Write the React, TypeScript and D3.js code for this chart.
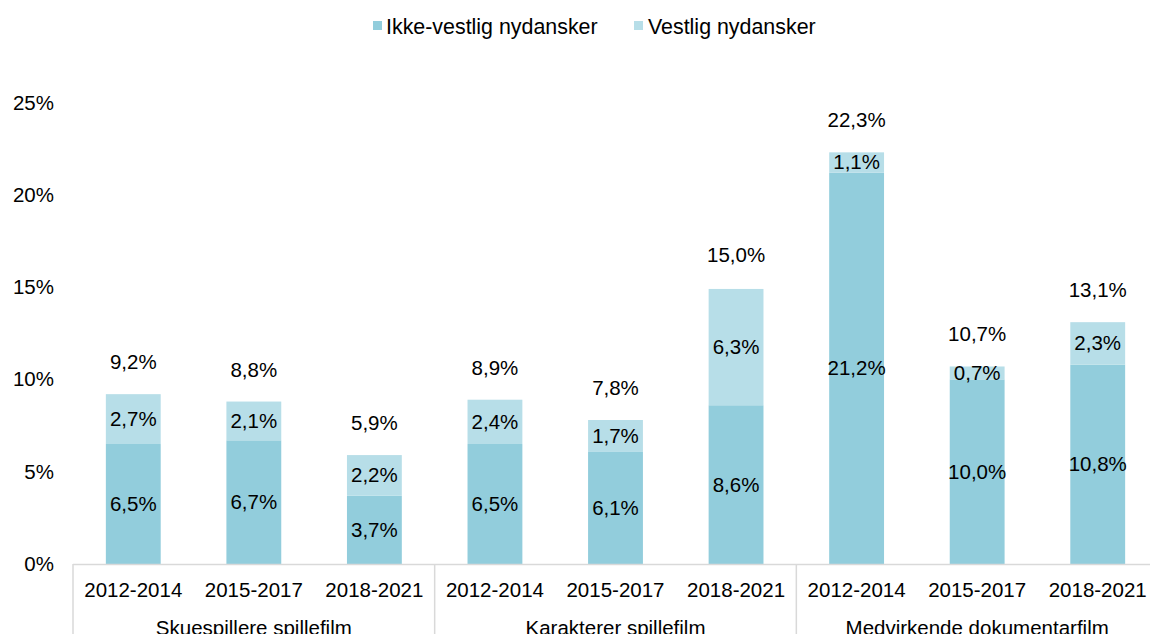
import React from "react";
import * as d3 from "d3";

const groups = ["Skuespillere spillefilm", "Karakterer spillefilm", "Medvirkende dokumentarfilm"];
const periods = ["2012-2014", "2015-2017", "2018-2021"];
const ikkeVestlig = [6.5, 6.7, 3.7, 6.5, 6.1, 8.6, 21.2, 10.0, 10.8];
const vestlig = [2.7, 2.1, 2.2, 2.4, 1.7, 6.3, 1.1, 0.7, 2.3];
const totals = [9.2, 8.8, 5.9, 8.9, 7.8, 15.0, 22.3, 10.7, 13.1];
const yTicks = [0, 5, 10, 15, 20, 25];
const seriesNames = ["Ikke-vestlig nydansker", "Vestlig nydansker"];

const W = 1150, H = 634;
const DARK = "#92CDDC";
const LIGHT = "#B7DEE8";
const FONT = "'Liberation Sans', Arial, sans-serif";
const FS = 20.5;

export default function App() {
  const left = 73, right = 1158;
  const keys = groups.flatMap((g, gi) => periods.map((p, pi) => `${gi}-${pi}`));
  const x = d3.scaleBand().domain(keys).range([left, right]).paddingInner(0.545).paddingOuter(0.2725);
  const y = d3.scaleLinear().domain([0, 25]).range([564, 102.5]);
  const fmt = (v: number) => v.toFixed(1).replace(".", ",") + "%";
  const step = x.step();
  const groupW = step * 3;

  return (
    <svg width={W} height={H} style={{ position: "absolute", left: 0, top: 0, fontFamily: FONT }}>
      {/* legend */}
      <g fontSize={21.4} fill="#000">
        <rect x={373} y={21} width={9} height={9} fill={DARK} />
        <text x={386} y={33.5}>{seriesNames[0]}</text>
        <rect x={634} y={21} width={9} height={9} fill={LIGHT} />
        <text x={648} y={33.5}>{seriesNames[1]}</text>
      </g>
      {/* y axis labels */}
      <g fontSize={FS} textAnchor="end">
        {yTicks.map((t) => (
          <text key={t} x={54} y={y(t) + 7}>{t}%</text>
        ))}
      </g>
      {/* bars */}
      {keys.map((k, i) => {
        const bx = x(k)!;
        const bw = x.bandwidth();
        const a = ikkeVestlig[i], b = vestlig[i];
        const cx = bx + bw / 2;
        return (
          <g key={k}>
            <rect x={bx} y={y(a)} width={bw} height={y(0) - y(a)} fill={DARK} />
            <rect x={bx} y={y(a + b)} width={bw} height={y(a) - y(a + b)} fill={LIGHT} />
            <text x={cx} y={y(a / 2) + 7} fontSize={FS} textAnchor="middle">{fmt(a)}</text>
            <text x={cx} y={y(a + b / 2) + 7} fontSize={FS} textAnchor="middle">{fmt(b)}</text>
            <text x={cx} y={y(totals[i]) - 25} fontSize={FS} textAnchor="middle">{fmt(totals[i])}</text>
          </g>
        );
      })}
      {/* axis */}
      <line x1={left} x2={right} y1={564.5} y2={564.5} stroke="#D9D9D9" strokeWidth={1.5} />
      {groups.map((g, gi) => {
        const gx = left + gi * groupW;
        return (
          <g key={g}>
            <line x1={gx} x2={gx} y1={564} y2={H} stroke="#D9D9D9" strokeWidth={1.5} />
            <text x={gx + groupW / 2} y={635} fontSize={FS} textAnchor="middle">{g}</text>
          </g>
        );
      })}
      {keys.map((k, i) => (
        <text key={k} x={x(k)! + x.bandwidth() / 2} y={597} fontSize={FS} textAnchor="middle">
          {periods[i % 3]}
        </text>
      ))}
    </svg>
  );
}
